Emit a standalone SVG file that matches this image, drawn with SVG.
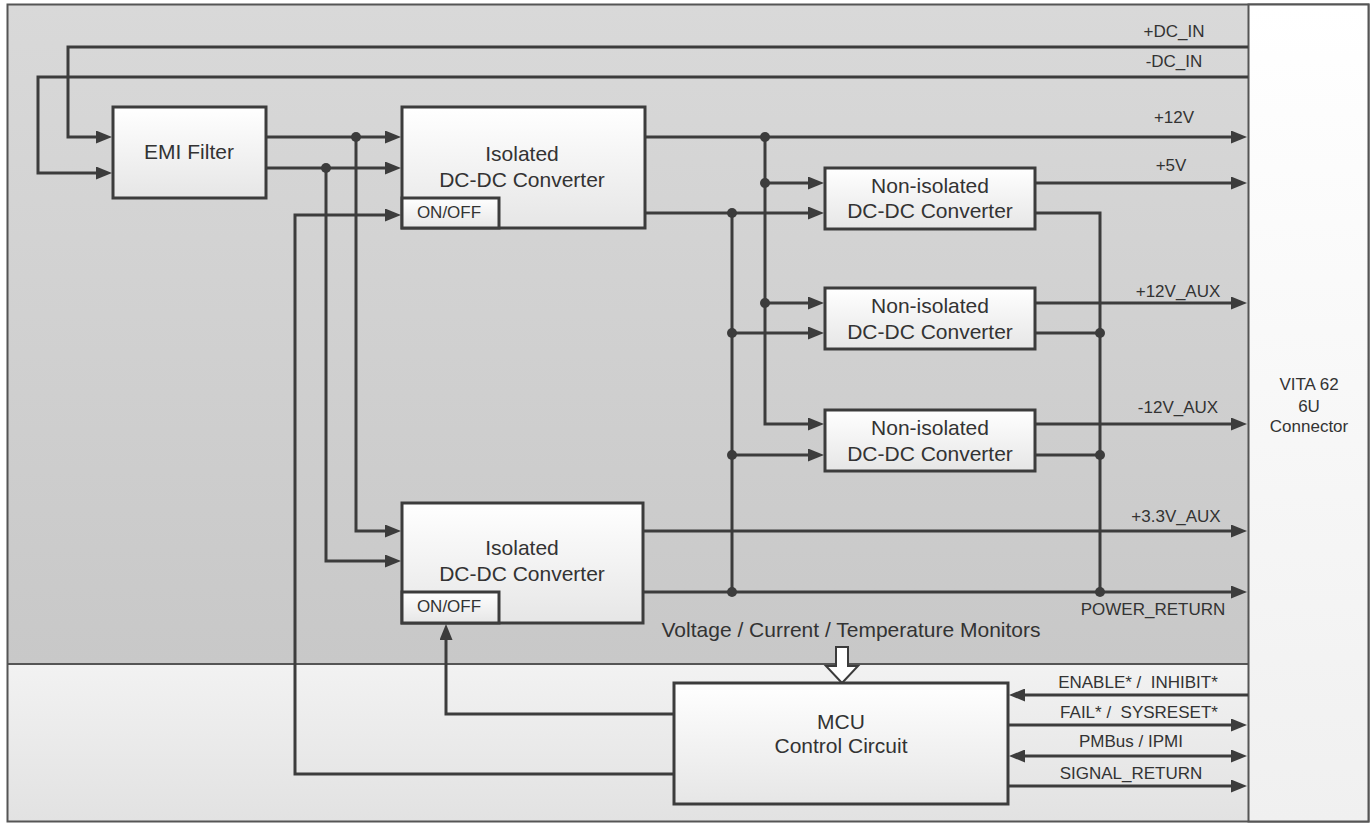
<svg xmlns="http://www.w3.org/2000/svg" width="1372" height="823" viewBox="0 0 1372 823">
<defs>
<linearGradient id="gUp" x1="0" y1="0" x2="0" y2="1"><stop offset="0" stop-color="#d9d9d9"/><stop offset="1" stop-color="#c8c8c8"/></linearGradient>
<linearGradient id="gLow" x1="0" y1="0" x2="0" y2="1"><stop offset="0" stop-color="#f2f2f2"/><stop offset="1" stop-color="#e2e2e2"/></linearGradient>
<linearGradient id="gBox" x1="0" y1="0" x2="0" y2="1"><stop offset="0" stop-color="#ffffff"/><stop offset="1" stop-color="#e6e6e6"/></linearGradient>
<linearGradient id="gCon" x1="0" y1="0" x2="0" y2="1"><stop offset="0" stop-color="#ffffff"/><stop offset="1" stop-color="#f0f0f0"/></linearGradient>
<marker id="ar" viewBox="0 0 16 13" refX="10" refY="6.5" markerWidth="16" markerHeight="13" markerUnits="userSpaceOnUse" orient="auto-start-reverse"><path d="M0,0 L16,6.5 L0,13 z" fill="#3c3c3c"/></marker>
<style>
.ln{fill:none;stroke:#3c3c3c;stroke-width:3}
.ar{marker-end:url(#ar)}
.box{fill:url(#gBox);stroke:#3c3c3c;stroke-width:3}
.dot{fill:#3c3c3c}
.big{font-family:"Liberation Sans",Arial,sans-serif;font-size:21px;fill:#333;text-anchor:middle}
.sm{font-family:"Liberation Sans",Arial,sans-serif;font-size:17px;fill:#333;text-anchor:middle}
</style>
</defs>
<g id="background">
<rect x="7.5" y="4.5" width="1241" height="660" fill="url(#gUp)"/>
<rect x="7.5" y="664" width="1241" height="157.5" fill="url(#gLow)"/>
<line x1="7.5" y1="664" x2="1248.5" y2="664" stroke="#555" stroke-width="2"/>
<rect x="7.5" y="4.5" width="1361" height="817" fill="none" stroke="#555" stroke-width="2"/>
</g>
<g id="connector">
<rect x="1248.5" y="4.5" width="120" height="817" fill="url(#gCon)" stroke="#555" stroke-width="2"/>
<text class="sm" x="1309" y="390">VITA 62</text>
<text class="sm" x="1309" y="412">6U</text>
<text class="sm" x="1309" y="432">Connector</text>
</g>
<g id="connectors">
<path class="ln ar" d="M1248,47 H68 V137 H106"/>
<path class="ln ar" d="M1248,77 H38 V173 H106"/>
<path class="ln ar" d="M266,137 H395"/>
<path class="ln ar" d="M266,168 H395"/>
<path class="ln ar" d="M356,137 V531 H395"/>
<path class="ln ar" d="M326,168 V561 H395"/>
<path class="ln ar" d="M674,774 H295 V215 H395"/>
<path class="ln ar" d="M674,714 H446 V630"/>
<path class="ln ar" d="M645,137 H1241"/>
<path class="ln ar" d="M645,213 H818"/>
<path class="ln ar" d="M765,137 V424 H818"/>
<path class="ln ar" d="M765,183 H818"/>
<path class="ln ar" d="M765,303 H818"/>
<path class="ln" d="M732,213 V592"/>
<path class="ln ar" d="M732,333 H818"/>
<path class="ln ar" d="M732,455 H818"/>
<path class="ln ar" d="M1035,183 H1241"/>
<path class="ln" d="M1035,213 H1100 V592"/>
<path class="ln ar" d="M1035,303 H1241"/>
<path class="ln" d="M1035,333 H1100"/>
<path class="ln ar" d="M1035,424 H1241"/>
<path class="ln" d="M1035,455 H1100"/>
<path class="ln ar" d="M643,531 H1241"/>
<path class="ln ar" d="M643,592 H1241"/>
<path class="ln ar" d="M1248,695 H1015"/>
<path class="ln ar" d="M1008,725 H1241"/>
<path class="ln ar" d="M1015,756 H1241" marker-start="url(#ar)"/>
<path class="ln ar" d="M1008,786 H1241"/>
<path d="M836,647 H848 V666 H858 L842,683 L826,666 H836 Z" fill="#ffffff" stroke="#3c3c3c" stroke-width="2"/>
<circle class="dot" cx="356" cy="137" r="5"/>
<circle class="dot" cx="326" cy="168" r="5"/>
<circle class="dot" cx="765" cy="137" r="5"/>
<circle class="dot" cx="765" cy="183" r="5"/>
<circle class="dot" cx="765" cy="303" r="5"/>
<circle class="dot" cx="732" cy="213" r="5"/>
<circle class="dot" cx="732" cy="333" r="5"/>
<circle class="dot" cx="732" cy="455" r="5"/>
<circle class="dot" cx="732" cy="592" r="5"/>
<circle class="dot" cx="1100" cy="333" r="5"/>
<circle class="dot" cx="1100" cy="455" r="5"/>
<circle class="dot" cx="1100" cy="592" r="5"/>
</g>
<g id="labels">
<text class="sm" x="1174" y="37">+DC_IN</text>
<text class="sm" x="1174" y="67">-DC_IN</text>
<text class="sm" x="1174" y="123">+12V</text>
<text class="sm" x="1171" y="171">+5V</text>
<text class="sm" x="1178" y="297">+12V_AUX</text>
<text class="sm" x="1178" y="413">-12V_AUX</text>
<text class="sm" x="1176" y="522">+3.3V_AUX</text>
<text class="sm" x="1153" y="615">POWER_RETURN</text>
<text class="big" x="851" y="637">Voltage / Current / Temperature Monitors</text>
<text class="sm" x="1138" y="688" xml:space="preserve">ENABLE* /  INHIBIT*</text>
<text class="sm" x="1139" y="718" xml:space="preserve">FAIL* /  SYSRESET*</text>
<text class="sm" x="1131" y="747">PMBus / IPMI</text>
<text class="sm" x="1131" y="779">SIGNAL_RETURN</text>
</g>
<g id="emi">
<rect class="box" x="113" y="107" width="153" height="91"/>
<text class="big" x="189" y="159">EMI Filter</text>
</g>
<g id="iso1">
<rect class="box" x="402" y="107" width="243" height="121"/>
<text class="big" x="522" y="161">Isolated</text>
<text class="big" x="522" y="187">DC-DC Converter</text>
<rect class="box" x="402" y="198" width="97" height="30"/>
<text class="sm" x="449" y="218">ON/OFF</text>
</g>
<g id="iso2">
<rect class="box" x="402" y="503" width="241" height="120"/>
<text class="big" x="522" y="555">Isolated</text>
<text class="big" x="522" y="581">DC-DC Converter</text>
<rect class="box" x="402" y="592" width="97" height="31"/>
<text class="sm" x="449" y="612">ON/OFF</text>
</g>
<g id="noniso1">
<rect class="box" x="825" y="168" width="210" height="61"/>
<text class="big" x="930" y="193">Non-isolated</text>
<text class="big" x="930" y="218">DC-DC Converter</text>
</g>
<g id="noniso2">
<rect class="box" x="825" y="288" width="210" height="61"/>
<text class="big" x="930" y="313">Non-isolated</text>
<text class="big" x="930" y="339">DC-DC Converter</text>
</g>
<g id="noniso3">
<rect class="box" x="825" y="410" width="210" height="61"/>
<text class="big" x="930" y="435">Non-isolated</text>
<text class="big" x="930" y="461">DC-DC Converter</text>
</g>
<g id="mcu">
<rect class="box" x="674" y="683" width="334" height="121"/>
<text class="big" x="841" y="729">MCU</text>
<text class="big" x="841" y="753">Control Circuit</text>
</g>
</svg>
